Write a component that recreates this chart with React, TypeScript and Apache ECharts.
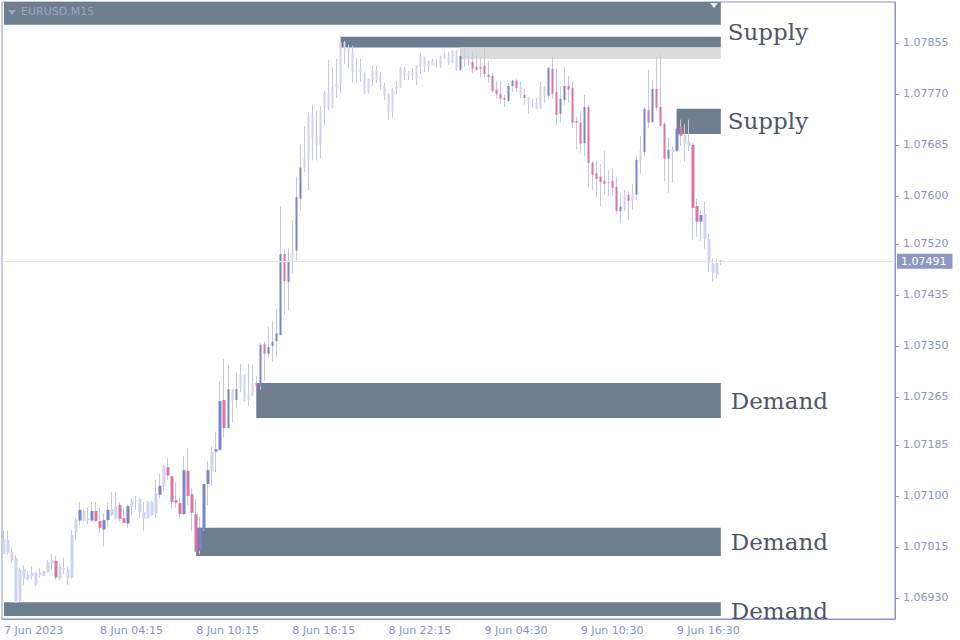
import { useEffect, useRef } from 'react';
import * as echarts from 'echarts';

// x-axis: one slot per M15 bar, labels every 24 bars
const slotCount = 223;
const tickLabels = ['7 Jun 2023', '8 Jun 04:15', '8 Jun 10:15', '8 Jun 16:15', '8 Jun 22:15', '9 Jun 04:30', '9 Jun 10:30', '9 Jun 16:30'];
const priceTicks = [1.0693, 1.07015, 1.071, 1.07185, 1.07265, 1.0735, 1.07435, 1.0752, 1.076, 1.07685, 1.0777, 1.07855];
const priceMin = 1.06895;
const priceMax = 1.07923;
const lastPrice = 1.07491;

const opens = [
  1.07003, 1.07027, 1.07007, 1.06997, 1.06926, 1.06978, 1.06962, 1.06967, 1.06972, 1.06968,
  1.06967, 1.06973, 1.06987, 1.06992, 1.06963, 1.0698, 1.06977, 1.06964, 1.07039, 1.07059,
  1.07075, 1.07059, 1.07059, 1.07075, 1.07058, 1.07044, 1.0706, 1.07068, 1.07063, 1.07085,
  1.07063, 1.07054, 1.07082, 1.07092, 1.07095, 1.07073, 1.07064, 1.0709, 1.07071, 1.07102,
  1.07116, 1.07148, 1.07133, 1.07093, 1.07088, 1.0707, 1.07142, 1.07103, 1.0707, 1.07009,
  1.07044, 1.0712, 1.07142, 1.07174, 1.07177, 1.0726, 1.07213, 1.07278, 1.0726, 1.0728,
  1.07302, 1.07259, 1.07267, 1.07288, 1.07282, 1.07353, 1.07337, 1.0735, 1.07358, 1.07368,
  1.07503, 1.07457, 1.07492, 1.07509, 1.07595, 1.07645, 1.07659, 1.07735, 1.07699, 1.07684,
  1.07747, 1.07772, 1.07747, 1.07781, 1.07785, 1.07856, 1.07846, 1.07838, 1.07807, 1.07812,
  1.07805, 1.07773, 1.07793, 1.0781, 1.07797, 1.07784, 1.07769, 1.0774, 1.07775, 1.0778,
  1.07812, 1.078, 1.07807, 1.07795, 1.07817, 1.07832, 1.07815, 1.07825, 1.07819, 1.07815,
  1.0783, 1.0783, 1.07821, 1.07842, 1.0781, 1.07832, 1.07823, 1.07823, 1.07815, 1.07815,
  1.07817, 1.07802, 1.078, 1.07777, 1.0777, 1.07763, 1.07758, 1.07783, 1.07792, 1.07782,
  1.07768, 1.07765, 1.07757, 1.07755, 1.07745, 1.07782, 1.07767, 1.07812, 1.07773, 1.07737,
  1.0776, 1.07783, 1.0778, 1.07725, 1.07722, 1.07688, 1.07748, 1.07655, 1.07638, 1.07632,
  1.07625, 1.07623, 1.07625, 1.07615, 1.07575, 1.0758, 1.07602, 1.0759, 1.07602, 1.07657,
  1.07673, 1.07743, 1.07723, 1.07778, 1.07748, 1.0772, 1.07662, 1.07673, 1.07675, 1.07715,
  1.07702, 1.0769, 1.07685, 1.07583, 1.07557, 1.0757, 1.07528, 1.07487, 1.07468, 1.07492,
];

const closes = [
  1.07028, 1.07006, 1.06993, 1.06922, 1.06977, 1.06962, 1.06969, 1.06972, 1.06952, 1.06973,
  1.06975, 1.0699, 1.06993, 1.06964, 1.06983, 1.06977, 1.06963, 1.07035, 1.0706, 1.07077,
  1.07059, 1.07063, 1.07075, 1.07058, 1.07047, 1.0706, 1.07077, 1.07078, 1.07083, 1.07062,
  1.07055, 1.07083, 1.07092, 1.07093, 1.07073, 1.07062, 1.0709, 1.07068, 1.07105, 1.07117,
  1.0715, 1.07134, 1.0709, 1.07089, 1.0707, 1.07143, 1.071, 1.07072, 1.07007, 1.07047,
  1.0712, 1.07143, 1.07173, 1.07178, 1.07258, 1.07213, 1.07278, 1.07258, 1.07278, 1.07303,
  1.07258, 1.07268, 1.07288, 1.07282, 1.07352, 1.07337, 1.07348, 1.07357, 1.07371, 1.07503,
  1.07458, 1.07492, 1.07512, 1.07598, 1.07647, 1.07662, 1.07733, 1.07697, 1.07684, 1.07743,
  1.07772, 1.07747, 1.07782, 1.07787, 1.07856, 1.07845, 1.07839, 1.07806, 1.07809, 1.07806,
  1.07771, 1.07795, 1.0781, 1.07795, 1.07782, 1.07767, 1.0774, 1.07778, 1.07783, 1.07812,
  1.078, 1.07805, 1.078, 1.07818, 1.07832, 1.07815, 1.07825, 1.07818, 1.0782, 1.07833,
  1.07836, 1.07822, 1.07842, 1.0781, 1.07833, 1.07826, 1.07842, 1.07812, 1.0781, 1.07812,
  1.07803, 1.07798, 1.07775, 1.0777, 1.07762, 1.0776, 1.07783, 1.07792, 1.0778, 1.0777,
  1.07763, 1.07755, 1.07756, 1.07745, 1.07782, 1.07767, 1.07813, 1.0777, 1.07735, 1.07762,
  1.07783, 1.07777, 1.07722, 1.07722, 1.07687, 1.07748, 1.07655, 1.07635, 1.07628, 1.07623,
  1.0762, 1.07622, 1.07613, 1.07575, 1.07582, 1.07602, 1.07592, 1.07603, 1.0766, 1.07675,
  1.07745, 1.07722, 1.07778, 1.07747, 1.07717, 1.07662, 1.07677, 1.07678, 1.07712, 1.077,
  1.07687, 1.07682, 1.0758, 1.07557, 1.07568, 1.07528, 1.07488, 1.07472, 1.07488, 1.07491,
];

const lows = [
  1.07003, 1.07002, 1.06989, 1.06922, 1.06923, 1.06952, 1.0696, 1.06961, 1.06949, 1.06964,
  1.06966, 1.06972, 1.06977, 1.0696, 1.0696, 1.0697, 1.06952, 1.06962, 1.07026, 1.07052,
  1.07057, 1.07053, 1.07057, 1.07057, 1.07038, 1.07016, 1.07049, 1.07066, 1.07061, 1.07057,
  1.07055, 1.07047, 1.07069, 1.07077, 1.07063, 1.07042, 1.07062, 1.07067, 1.07064, 1.07096,
  1.0711, 1.07127, 1.07079, 1.0708, 1.07064, 1.07068, 1.07085, 1.07042, 1.07007, 1.07003,
  1.07042, 1.07085, 1.07117, 1.0714, 1.07175, 1.07198, 1.07213, 1.07223, 1.07247, 1.07273,
  1.07257, 1.0725, 1.07267, 1.07282, 1.07277, 1.07292, 1.07329, 1.07324, 1.07331, 1.07368,
  1.07403, 1.07409, 1.07471, 1.07492, 1.07575, 1.07639, 1.07609, 1.07659, 1.07659, 1.07662,
  1.07717, 1.07743, 1.07747, 1.07763, 1.0777, 1.0782, 1.07813, 1.07789, 1.07789, 1.0779,
  1.0777, 1.07771, 1.07783, 1.07788, 1.07777, 1.0776, 1.07727, 1.0773, 1.07768, 1.0778,
  1.07793, 1.07793, 1.07793, 1.07785, 1.07803, 1.07806, 1.07807, 1.07817, 1.07813, 1.07813,
  1.07828, 1.07818, 1.07821, 1.07808, 1.07808, 1.07815, 1.07817, 1.07805, 1.07808, 1.07797,
  1.07798, 1.07788, 1.07772, 1.07762, 1.07753, 1.07748, 1.07757, 1.07773, 1.07773, 1.07763,
  1.07752, 1.07737, 1.07747, 1.07745, 1.07745, 1.07755, 1.07762, 1.07762, 1.07717, 1.07722,
  1.07752, 1.07755, 1.07713, 1.07678, 1.07672, 1.07667, 1.07615, 1.0761, 1.07597, 1.07583,
  1.07603, 1.076, 1.076, 1.0757, 1.07555, 1.07575, 1.0756, 1.07577, 1.07593, 1.07637,
  1.07667, 1.07713, 1.07722, 1.07742, 1.07715, 1.07625, 1.07605, 1.07622, 1.07673, 1.07683,
  1.07657, 1.07675, 1.07527, 1.07532, 1.07525, 1.07512, 1.07473, 1.07457, 1.07462, 1.07485,
];

const highs = [
  1.07043, 1.07042, 1.07014, 1.07001, 1.0698, 1.06985, 1.06974, 1.06983, 1.06974, 1.0698,
  1.06975, 1.06993, 1.07003, 1.07, 1.06987, 1.06997, 1.06982, 1.07043, 1.07063, 1.0709,
  1.07077, 1.07081, 1.0709, 1.0709, 1.07081, 1.07071, 1.07089, 1.07106, 1.07106, 1.0709,
  1.07078, 1.07085, 1.07096, 1.071, 1.07097, 1.0709, 1.07092, 1.07092, 1.07127, 1.07137,
  1.07152, 1.07163, 1.07133, 1.07122, 1.07097, 1.07167, 1.0718, 1.07113, 1.07095, 1.07065,
  1.07122, 1.07158, 1.07182, 1.07207, 1.0729, 1.07328, 1.07317, 1.07278, 1.07305, 1.0732,
  1.07302, 1.0732, 1.07318, 1.073, 1.07355, 1.07357, 1.07382, 1.07392, 1.07412, 1.07582,
  1.07512, 1.07513, 1.07559, 1.07632, 1.07685, 1.07716, 1.07739, 1.07752, 1.07742, 1.07749,
  1.07775, 1.07827, 1.07814, 1.07828, 1.07866, 1.07858, 1.07852, 1.0785, 1.0783, 1.07828,
  1.07807, 1.07795, 1.07817, 1.07817, 1.07807, 1.07788, 1.07771, 1.0778, 1.07792, 1.07815,
  1.07815, 1.07808, 1.07813, 1.07818, 1.07838, 1.07832, 1.07825, 1.07828, 1.07827, 1.07833,
  1.0784, 1.0784, 1.07842, 1.07842, 1.07845, 1.07845, 1.07845, 1.0784, 1.07833, 1.07832,
  1.07845, 1.07825, 1.07805, 1.07792, 1.07792, 1.07768, 1.07788, 1.07793, 1.07795, 1.0779,
  1.07778, 1.07765, 1.07762, 1.07763, 1.0779, 1.07783, 1.07815, 1.07833, 1.07812, 1.07782,
  1.07815, 1.078, 1.0779, 1.07732, 1.0774, 1.07768, 1.07752, 1.07658, 1.07658, 1.07653,
  1.07675, 1.07642, 1.07647, 1.07632, 1.07605, 1.0761, 1.07607, 1.0762, 1.07667, 1.077,
  1.07748, 1.0781, 1.07792, 1.07833, 1.07835, 1.07723, 1.07697, 1.07683, 1.07745, 1.07727,
  1.0772, 1.07727, 1.07688, 1.07595, 1.07577, 1.0759, 1.07537, 1.07495, 1.07495, 1.07493,
];

// 0 = plain bar, 1 = highlighted up bar, 2 = highlighted down bar
const kinds = [
  0, 0, 0, 0, 0, 0, 0, 0, 0, 0,
  0, 0, 0, 2, 0, 0, 0, 0, 0, 1,
  0, 0, 1, 2, 2, 1, 1, 0, 0, 2,
  2, 1, 0, 0, 0, 0, 0, 0, 0, 1,
  0, 2, 2, 2, 2, 1, 2, 2, 2, 1,
  1, 1, 0, 1, 1, 2, 1, 0, 1, 0,
  0, 0, 0, 2, 1, 2, 1, 1, 1, 1,
  2, 1, 0, 1, 1, 0, 0, 0, 0, 0,
  0, 0, 0, 0, 0, 0, 0, 0, 0, 0,
  0, 0, 0, 0, 0, 0, 0, 0, 0, 0,
  0, 0, 0, 0, 0, 0, 0, 0, 0, 0,
  0, 0, 0, 0, 1, 0, 0, 2, 2, 2,
  2, 2, 2, 2, 2, 2, 1, 1, 2, 0,
  2, 0, 0, 0, 0, 0, 1, 2, 2, 1,
  1, 2, 2, 2, 2, 1, 2, 2, 2, 2,
  2, 2, 2, 2, 1, 0, 2, 0, 1, 0,
  1, 2, 1, 2, 2, 2, 1, 0, 1, 2,
  0, 0, 2, 2, 1, 0, 0, 0, 0, 2,
];

// supply / demand zones (start bar, top, bottom); all run to the last bar
const zoneLabels = ['Supply', '', '', 'Supply', 'Demand', 'Demand', 'Demand'];
const zoneStarts = [0, 84, 114, 168, 63, 48, 0];
const zoneTops = [1.07923, 1.07865, 1.07847, 1.07745, 1.07288, 1.07047, 1.06923];
const zoneBottoms = [1.07885, 1.07847, 1.07828, 1.07703, 1.0723, 1.07, 1.069];
const zoneTested = [false, false, true, false, false, false, false];

const colors = {
  frame: '#8c96c0',
  axisText: '#8b94c6',
  wick: '#c6c9df',
  body: '#ced4f1',
  up: '#7686cc',
  down: '#de72a2',
  zone: '#6f7e8f',
  zoneTested: '#dcdcdc',
  zoneText: '#4f5666',
  priceLine: '#e2e4f2',
  priceTag: '#8e99c2',
};

export default function App() {
  const chartRef = useRef<HTMLDivElement>(null);

  useEffect(() => {
    if (!chartRef.current) return;
    document.body.style.margin = '0';
    const chart = echarts.init(chartRef.current, undefined, { renderer: 'svg' });

    const categories = Array.from({ length: slotCount }, (_, i) => String(i));
    const lastIndex = opens.length - 1;
    const candles = opens.map((o, i) => [o, closes[i], lows[i], highs[i]]);

    // bodies only (no wick), grouped by kind
    const bodies = (kind: number) =>
      opens
        .map((o, i) => ({ o, c: closes[i], i }))
        .filter(d => kinds[d.i] === kind)
        .map(d => [d.i, d.o, d.c, Math.min(d.o, d.c), Math.max(d.o, d.c)]);

    const showTick = (idx: number) => idx % 24 === 0 && idx / 24 < tickLabels.length;

    const labelShift: Record<number, number> = { 0: 19, 6: 2 };

    const zoneAreas = zoneLabels.map((label, k) => [
      {
        xAxis: zoneStarts[k],
        yAxis: zoneTops[k],
        itemStyle: { color: zoneTested[k] ? colors.zoneTested : colors.zone, opacity: 1 },
        label: {
          show: label !== '',
          formatter: label,
          position: 'right',
          distance: label === 'Demand' ? 10 : 7,
          offset: [0, labelShift[k] || 0],
          color: colors.zoneText,
          fontFamily: 'DejaVu Serif',
          fontSize: 23,
        },
      },
      { xAxis: lastIndex, yAxis: zoneBottoms[k] },
    ]);

    const bodySeries = (name: string, kind: number, color: string) => ({
      name,
      type: 'candlestick',
      data: bodies(kind),
      encode: { x: 0, y: [1, 2, 3, 4] },
      barWidth: 3,
      itemStyle: { color, color0: color, borderColor: color, borderColor0: color, borderWidth: 0 },
      silent: true,
      z: 3,
    });

    const option: any = {
      animation: false,
      backgroundColor: '#ffffff',
      grid: {
        left: 2,
        right: 65,
        top: 2,
        bottom: 21,
        show: true,
        borderColor: colors.frame,
        borderWidth: 1,
      },
      graphic: [
        {
          type: 'polygon',
          shape: { points: [[8, 10], [16, 10], [12, 15]] },
          style: { fill: '#9ba4c8' },
          z: 10,
        },
        {
          type: 'text',
          left: 21,
          top: 6,
          style: { text: 'EURUSD,M15', fill: '#9ba4c8', font: '11px "DejaVu Sans"' },
          z: 10,
        },
        {
          type: 'polygon',
          shape: { points: [[710, 3], [718, 3], [714, 8]] },
          style: { fill: '#e6e9f6' },
          z: 10,
        },
      ],
      xAxis: {
        type: 'category',
        data: categories,
        boundaryGap: true,
        axisLine: { lineStyle: { color: colors.frame } },
        axisTick: { interval: showTick, length: 4, lineStyle: { color: colors.frame } },
        axisLabel: {
          interval: showTick,
          formatter: (_v: string, idx: number) => tickLabels[idx / 24] ?? '',
          align: 'left',
          color: colors.axisText,
          fontFamily: 'DejaVu Sans',
          fontSize: 11,
          margin: 6,
        },
        splitLine: { show: false },
      },
      yAxis: {
        type: 'value',
        position: 'right',
        min: priceMin,
        max: priceMax,
        axisLine: { show: true, lineStyle: { color: colors.frame } },
        axisTick: { show: true, customValues: priceTicks, length: 4, lineStyle: { color: colors.frame } },
        axisLabel: {
          customValues: priceTicks,
          formatter: (v: number) => v.toFixed(5),
          color: colors.axisText,
          fontFamily: 'DejaVu Sans',
          fontSize: 11,
          margin: 8,
        },
        splitLine: { show: false },
      },
      series: [
        {
          name: 'EURUSD',
          type: 'candlestick',
          data: candles,
          barWidth: 1,
          itemStyle: {
            color: colors.wick,
            color0: colors.wick,
            borderColor: colors.wick,
            borderColor0: colors.wick,
            borderWidth: 1,
          },
          silent: true,
          markArea: { silent: true, data: zoneAreas },
        },
        bodySeries('plain', 0, colors.body),
        bodySeries('up', 1, colors.up),
        bodySeries('down', 2, colors.down),
        {
          name: 'last',
          type: 'line',
          data: [],
          silent: true,
          markLine: {
            silent: true,
            symbol: 'none',
            precision: 5,
            lineStyle: { color: colors.priceLine, type: 'solid', width: 1 },
            label: {
              position: 'end',
              distance: 2,
              formatter: lastPrice.toFixed(5),
              backgroundColor: colors.priceTag,
              color: '#ffffff',
              fontFamily: 'DejaVu Sans',
              fontSize: 11,
              padding: [2, 6, 2, 4],
            },
            data: [{ yAxis: lastPrice }],
          },
        },
      ],
    };

    chart.setOption(option);

    return () => {
      chart.dispose();
    };
  }, []);

  return <div ref={chartRef} style={{ width: 960, height: 640 }} />;
}
